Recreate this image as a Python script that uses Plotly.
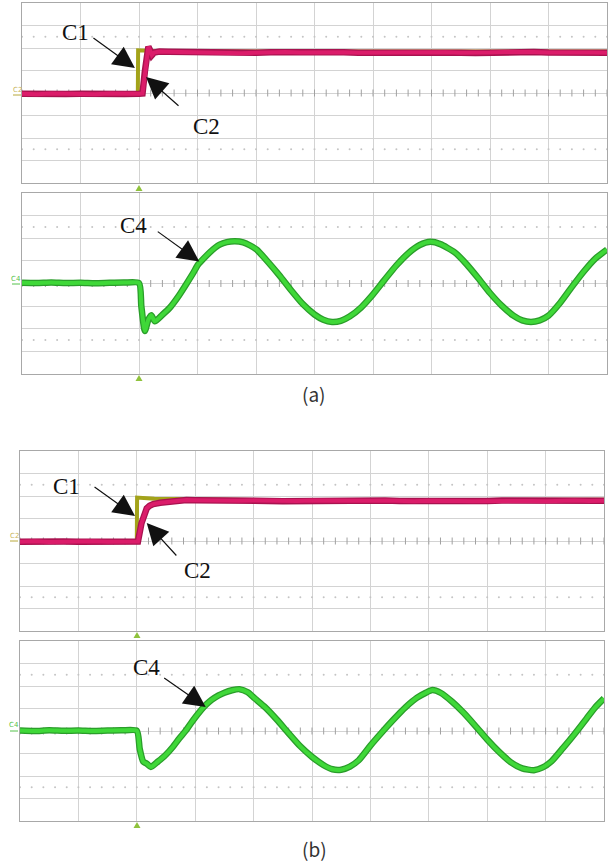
import plotly.graph_objects as go

W, H = 609, 864

# Time in screen divisions (10 div), amplitude in vertical divisions (8 div)

# ---------- case (a) ----------
a_c1_t = [0.0, 1.0, 1.98, 1.985, 2.10, 2.25, 4.0, 6.0, 8.0, 10.0]
a_c1_v = [-0.02, -0.02, -0.02, 1.90, 1.88, 1.87, 1.84, 1.85, 1.84, 1.85]

a_c2_t = [0.0, 0.25, 0.5, 0.75, 1.0, 1.25, 1.5, 1.75, 2.0,
          2.06, 2.10, 2.13, 2.16, 2.19, 2.22, 2.26, 2.35,
          2.5, 2.75, 3.0, 3.25, 3.5, 3.75, 4.0, 4.25, 4.5, 4.75,
          5.0, 5.25, 5.5, 5.75, 6.0, 6.25, 6.5, 6.75, 7.0, 7.25,
          7.5, 7.75, 8.0, 8.25, 8.5, 8.75, 9.0, 9.25, 9.5, 9.75, 10.0]
a_c2_v = [-0.03, -0.05, -0.02, -0.04, -0.03, -0.05, -0.02, -0.04, -0.03,
          -0.02, 0.95, 1.60, 2.06, 1.90, 1.68, 1.80, 1.84,
          1.83, 1.82, 1.80, 1.77, 1.76, 1.77, 1.79, 1.81, 1.82, 1.80,
          1.81, 1.82, 1.81, 1.79, 1.80, 1.81, 1.80, 1.79, 1.80, 1.81,
          1.79, 1.78, 1.80, 1.82, 1.83, 1.82, 1.80, 1.81, 1.82, 1.80, 1.79]

a_c4_t = [0.0, 0.25, 0.5, 0.75, 1.0, 1.25, 1.5, 1.75, 2.0,
          2.04, 2.10, 2.16, 2.21, 2.27, 2.40, 2.53, 2.67, 2.81, 2.93,
          3.01, 3.11, 3.21, 3.30, 3.38, 3.50, 3.64, 3.78, 3.90, 4.01,
          4.2, 4.4, 4.6, 4.8, 5.0, 5.15, 5.3, 5.45, 5.6, 5.8,
          6.0, 6.2, 6.4, 6.6, 6.8, 6.98, 7.15, 7.4, 7.6, 7.8,
          8.0, 8.2, 8.4, 8.55, 8.7, 8.85, 9.0, 9.2, 9.4, 9.6, 9.8, 10.0]
a_c4_v = [0.03, 0.02, 0.04, 0.02, 0.03, 0.01, 0.03, 0.04, 0.02,
          -1.00, -2.10, -1.60, -1.40, -1.67, -1.38, -1.06, -0.58, -0.02, 0.48,
          0.84, 1.12, 1.38, 1.58, 1.72, 1.83, 1.87, 1.82, 1.68, 1.50,
          0.97, 0.36, -0.30, -0.91, -1.37, -1.60, -1.70, -1.65, -1.46, -1.05,
          -0.48, 0.17, 0.80, 1.33, 1.70, 1.84, 1.74, 1.37, 0.85, 0.23,
          -0.42, -0.98, -1.42, -1.63, -1.70, -1.63, -1.42, -0.85, -0.15, 0.52, 1.10, 1.50]

# ---------- case (b) ----------
b_c1_t = [0.0, 1.0, 2.0, 2.005, 2.15, 2.30, 4.0, 6.0, 8.0, 10.0]
b_c1_v = [-0.02, -0.02, -0.02, 1.93, 1.90, 1.88, 1.82, 1.83, 1.82, 1.83]

b_c2_t = [0.0, 0.25, 0.5, 0.75, 1.0, 1.25, 1.5, 1.75, 2.0,
          2.02, 2.08, 2.13, 2.17, 2.22, 2.28, 2.40, 2.56, 2.70, 2.85,
          3.0, 3.25, 3.5, 3.75, 4.0, 4.25, 4.5, 4.75,
          5.0, 5.25, 5.5, 5.75, 6.0, 6.25, 6.5, 6.75, 7.0, 7.25,
          7.5, 7.75, 8.0, 8.25, 8.5, 8.75, 9.0, 9.25, 9.5, 9.75, 10.0]
b_c2_v = [-0.03, -0.01, -0.04, -0.02, -0.03, -0.01, -0.03, -0.04, -0.02,
          -0.02, 0.79, 1.20, 1.45, 1.57, 1.64, 1.70, 1.75, 1.79, 1.82,
          1.81, 1.79, 1.78, 1.79, 1.80, 1.78, 1.77, 1.78,
          1.80, 1.79, 1.77, 1.78, 1.79, 1.80, 1.78, 1.77, 1.79, 1.80,
          1.78, 1.77, 1.78, 1.80, 1.79, 1.78, 1.77, 1.79, 1.80, 1.78, 1.79]

b_c4_t = [0.0, 0.25, 0.5, 0.75, 1.0, 1.25, 1.5, 1.75, 2.0,
          2.05, 2.11, 2.17, 2.24, 2.36, 2.48, 2.62, 2.73, 2.84, 2.97,
          3.10, 3.19, 3.28, 3.40, 3.50, 3.63, 3.76, 3.90, 4.02,
          4.2, 4.4, 4.6, 4.8, 5.0, 5.2, 5.35, 5.5, 5.65, 5.8,
          6.0, 6.2, 6.4, 6.6, 6.8, 6.95, 7.06, 7.2, 7.4, 7.6, 7.8,
          8.0, 8.2, 8.4, 8.6, 8.8, 8.95, 9.1, 9.3, 9.5, 9.7, 9.85, 10.0]
b_c4_v = [0.02, 0.00, 0.03, 0.01, 0.02, 0.00, 0.02, 0.03, 0.01,
          -0.80, -1.36, -1.45, -1.60, -1.36, -1.10, -0.70, -0.32, 0.02, 0.50,
          0.93, 1.18, 1.38, 1.58, 1.70, 1.81, 1.86, 1.72, 1.45,
          1.05, 0.50, -0.10, -0.68, -1.15, -1.52, -1.70, -1.72, -1.58, -1.30,
          -0.65, -0.05, 0.52, 1.05, 1.48, 1.70, 1.82, 1.70, 1.30, 0.80, 0.22,
          -0.38, -0.92, -1.38, -1.66, -1.74, -1.62, -1.35, -0.75, -0.12, 0.55, 1.05, 1.45]

for t, v in [(a_c1_t, a_c1_v), (a_c2_t, a_c2_v), (a_c4_t, a_c4_v),
             (b_c1_t, b_c1_v), (b_c2_t, b_c2_v), (b_c4_t, b_c4_v)]:
    assert len(t) == len(v)

# Screen boxes (left, right, top, bottom) in pixels
panels = [(22, 607, 3, 183), (22, 607, 193, 374),
          (20, 604, 451, 631), (20, 604, 641, 821)]

PINK_EDGE, PINK = "#a8124f", "#db1c6a"
GREEN_EDGE, GREEN = "#2a9d2a", "#3fd838"
OLIVE = "#a3a31a"
GRID, FRAME, DOTS = "#d3d3d3", "#a8a8a8", "#c4c4c4"

fig = go.Figure()


def ax_names(i):
    s = "" if i == 0 else str(i + 1)
    return "x" + s, "y" + s


def add_trace(i, t, v, edge, core, we=6.5, wc=4.0, shape="linear"):
    xa, ya = ax_names(i)
    fig.add_trace(go.Scatter(x=t, y=v, mode="lines", xaxis=xa, yaxis=ya,
                             line=dict(color=edge, width=we, shape=shape, smoothing=0.6),
                             hoverinfo="skip", showlegend=False))
    if core:
        fig.add_trace(go.Scatter(x=t, y=v, mode="lines", xaxis=xa, yaxis=ya,
                                 line=dict(color=core, width=wc, shape=shape, smoothing=0.6),
                                 hoverinfo="skip", showlegend=False))


# graticule decorations: ticks on the centre line and dotted rows
tick_x = [k * 0.2 for k in range(51)]
for i in range(4):
    xa, ya = ax_names(i)
    fig.add_trace(go.Scatter(x=tick_x, y=[0] * len(tick_x), mode="markers", xaxis=xa, yaxis=ya,
                             marker=dict(symbol="line-ns-open", size=5, color="#a0a0a0",
                                         line=dict(color="#a0a0a0", width=1)),
                             hoverinfo="skip", showlegend=False))
    for yy in (2.5, -2.5):
        fig.add_trace(go.Scatter(x=tick_x, y=[yy] * len(tick_x), mode="markers", xaxis=xa, yaxis=ya,
                                 marker=dict(symbol="circle", size=2, color=DOTS),
                                 hoverinfo="skip", showlegend=False))

# channel traces
add_trace(0, a_c1_t, a_c1_v, OLIVE, None, we=4)
add_trace(0, a_c2_t, a_c2_v, PINK_EDGE, PINK)
add_trace(1, a_c4_t, a_c4_v, GREEN_EDGE, GREEN, shape="spline")
add_trace(2, b_c1_t, b_c1_v, OLIVE, None, we=4)
add_trace(2, b_c2_t, b_c2_v, PINK_EDGE, PINK)
add_trace(3, b_c4_t, b_c4_v, GREEN_EDGE, GREEN, shape="spline")

layout = dict(width=W, height=H, margin=dict(l=0, r=0, t=0, b=0),
              paper_bgcolor="white", plot_bgcolor="white", showlegend=False)
for i, (l, r, t, b) in enumerate(panels):
    s = "" if i == 0 else str(i + 1)
    layout["xaxis" + s] = dict(domain=[l / W, r / W], range=[0, 10], tick0=0, dtick=1,
                               showgrid=True, gridcolor=GRID, gridwidth=1, zeroline=False,
                               showticklabels=False, ticks="", showline=True, linecolor=FRAME,
                               linewidth=1, mirror=True, fixedrange=True,
                               anchor="y" + s)
    layout["yaxis" + s] = dict(domain=[1 - b / H, 1 - t / H], range=[-4, 4], tick0=0, dtick=1,
                               showgrid=True, gridcolor=GRID, gridwidth=1, zeroline=False,
                               showticklabels=False, ticks="", showline=True, linecolor=FRAME,
                               linewidth=1, mirror=True, fixedrange=True,
                               anchor="x" + s)
fig.update_layout(**layout)

SERIF = "Liberation Serif"
ann = []


def label(i, x, y, text):
    xa, ya = ax_names(i)
    ann.append(dict(x=x, y=y, xref=xa, yref=ya, text=text, showarrow=False,
                    xanchor="center", yanchor="middle",
                    font=dict(family=SERIF, size=23, color="#111111")))


def arrow(i, x, y, ax, ay):
    xa, ya = ax_names(i)
    ann.append(dict(x=x, y=y, xref=xa, yref=ya, text="", showarrow=True,
                    ax=ax, ay=ay, arrowhead=2, arrowsize=3.6, arrowwidth=1.2,
                    arrowcolor="#111111", standoff=0))


label(0, 0.91, 2.67, "C1"); arrow(0, 1.93, 1.11, -43, -31)
label(0, 3.15, -1.51, "C2"); arrow(0, 2.12, 0.71, 34, 30)
label(1, 1.90, 2.57, "C4"); arrow(1, 3.03, 0.97, -43, -31)
label(2, 0.80, 2.40, "C1"); arrow(2, 1.97, 1.11, -42, -30)
label(2, 3.04, -1.29, "C2"); arrow(2, 2.17, 0.80, 31, 34)
label(3, 2.17, 2.84, "C4"); arrow(3, 3.18, 1.07, -43, -30)

# sub-figure captions
for cx, cy, txt in [(314, 393, "(a)"), (314, 848, "(b)")]:
    ann.append(dict(x=cx / W, y=1 - cy / H, xref="paper", yref="paper", text=txt,
                    showarrow=False, xanchor="center", yanchor="middle",
                    font=dict(family="Noto Sans CJK KR", size=19, color="#333333")))

# channel tags at the left edge of each panel
for cx, cy, txt, col in [(17, 90, "C2", "#c9b45c"), (16, 279, "C4", "#55c24a"),
                         (14, 536, "C2", "#c9b45c"), (14, 725, "C4", "#55c24a")]:
    ann.append(dict(x=cx / W, y=1 - cy / H, xref="paper", yref="paper", text=txt,
                    showarrow=False, xanchor="center", yanchor="middle",
                    font=dict(family="DejaVu Sans", size=7, color=col)))

fig.update_layout(annotations=ann)

# trigger markers (small triangles under the panels)
shapes = []
for cx, cy in [(139, 188), (139, 378), (137, 635), (137, 825)]:
    pts = [(cx - 3.5, cy + 3), (cx + 3.5, cy + 3), (cx, cy - 3)]
    path = "M " + " L ".join(f"{px / W:.5f},{1 - py / H:.5f}" for px, py in pts) + " Z"
    shapes.append(dict(type="path", xref="paper", yref="paper", path=path,
                       fillcolor="#8fc23c", line=dict(width=0)))
# small level marks beside the channel tags
for x0, x1, yy, col in [(13, 21, 95, "#b8a83a"), (12, 20, 284, "#55c24a"),
                        (10, 18, 541, "#b8a83a"), (10, 18, 731, "#55c24a")]:
    shapes.append(dict(type="line", xref="paper", yref="paper", x0=x0 / W, x1=x1 / W,
                       y0=1 - yy / H, y1=1 - yy / H, line=dict(color=col, width=1)))
fig.update_layout(shapes=shapes)

fig.write_html("out.html")
